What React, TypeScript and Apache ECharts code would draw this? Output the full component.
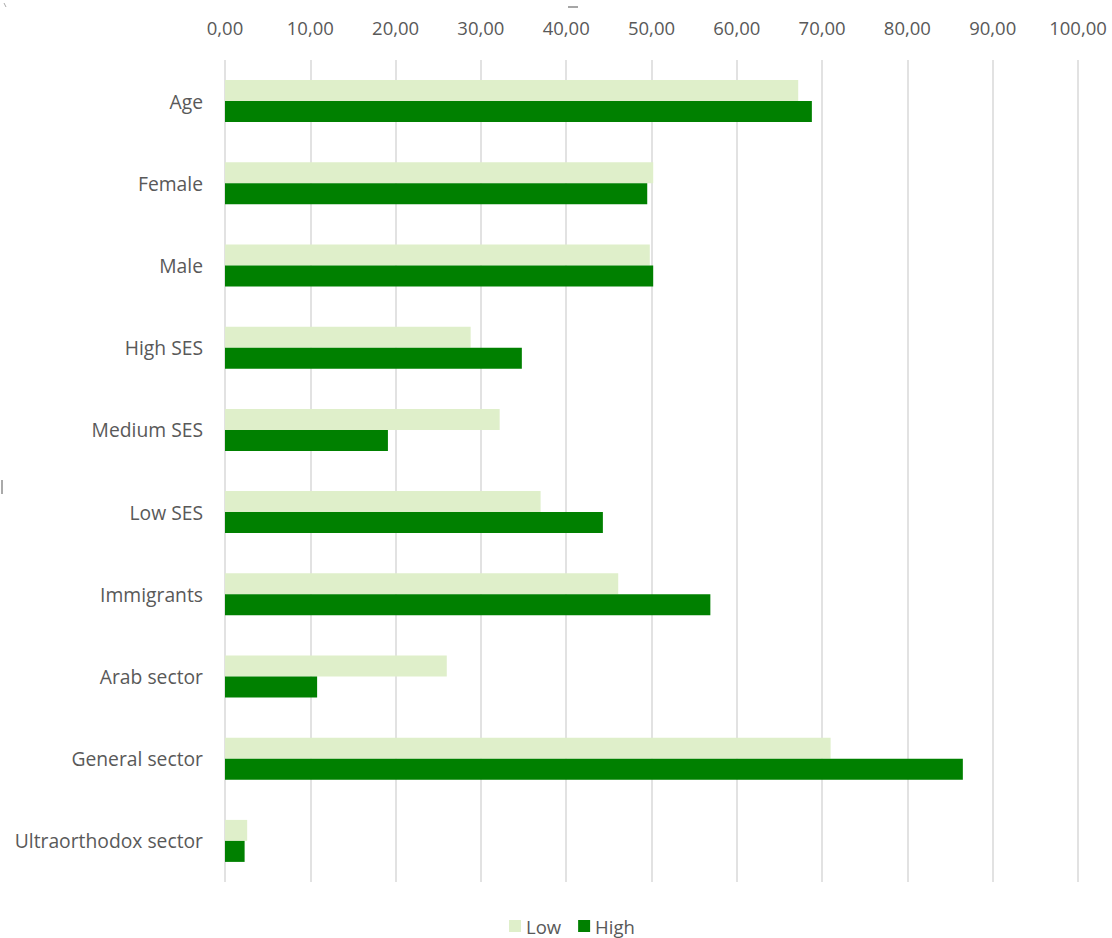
import React, { useEffect, useRef } from "react";
import * as echarts from "echarts";

const categories = [
  "Age",
  "Female",
  "Male",
  "High SES",
  "Medium SES",
  "Low SES",
  "Immigrants",
  "Arab sector",
  "General sector",
  "Ultraorthodox sector",
];
const lowValues = [67.2, 50.2, 49.8, 28.8, 32.2, 37.0, 46.1, 26.0, 71.0, 2.6];
const highValues = [68.8, 49.5, 50.2, 34.8, 19.1, 44.3, 56.9, 10.8, 86.5, 2.3];
const seriesNames = ["Low", "High"];
const xTicks = { min: 0, max: 100, interval: 10 };

export default function App() {
  const ref = useRef<HTMLDivElement>(null);
  useEffect(() => {
    if (!ref.current) return;
    const chart = echarts.init(ref.current, undefined, { renderer: "svg" });
    const font = "'Open Sans', 'Noto Sans', sans-serif";
    chart.setOption({
      animation: false,
      backgroundColor: "#ffffff",
      textStyle: { fontFamily: font },
      grid: { left: 225, right: 34, top: 60, bottom: 56, containLabel: false },
      legend: {
        top: 916,
        left: 509,
        padding: 0,
        itemWidth: 12,
        itemHeight: 12,
        itemGap: 17,
        icon: "rect",
        textStyle: { color: "#595959", fontSize: 18.5, lineHeight: 20, fontFamily: font, padding: [0, 0, 0, 0] },
        data: seriesNames,
      },
      xAxis: {
        type: "value",
        position: "top",
        min: xTicks.min,
        max: xTicks.max,
        interval: xTicks.interval,
        axisLine: { show: false },
        axisTick: { show: false },
        axisLabel: {
          color: "#595959",
          fontSize: 18.5,
          fontFamily: font,
          margin: 23,
          formatter: (v: number) => v.toFixed(2).replace(".", ","),
        },
        splitLine: { show: true, lineStyle: { color: "#d9d9d9", width: 1.5 } },
      },
      yAxis: {
        type: "category",
        inverse: true,
        data: categories,
        axisLine: { show: false },
        axisTick: { show: false },
        axisLabel: { color: "#595959", fontSize: 19.3, fontFamily: font, margin: 22, verticalAlign: "middle", lineHeight: 20, padding: [0, 0, 4, 0] },
      },
      series: [
        {
          name: seriesNames[0],
          type: "bar",
          data: lowValues,
          barWidth: 21,
          barGap: "0%",
          itemStyle: { color: "#dfefca" },
        },
        {
          name: seriesNames[1],
          type: "bar",
          data: highValues,
          barWidth: 21,
          barGap: "0%",
          itemStyle: { color: "#008000" },
        },
      ],
      graphic: [
        { type: "line", shape: { x1: 568, y1: 7, x2: 578, y2: 7 }, style: { stroke: "#888", lineWidth: 1.5 } },
        { type: "line", shape: { x1: 2, y1: 480, x2: 2, y2: 494 }, style: { stroke: "#aaa", lineWidth: 2 } },
        { type: "line", shape: { x1: 4, y1: 3, x2: 6, y2: 7 }, style: { stroke: "#aaa", lineWidth: 1 } },
      ],
    });
    return () => chart.dispose();
  }, []);
  return (
    <div
      ref={ref}
      style={{ position: "fixed", left: 0, top: 0, width: 1112, height: 938 }}
    />
  );
}
